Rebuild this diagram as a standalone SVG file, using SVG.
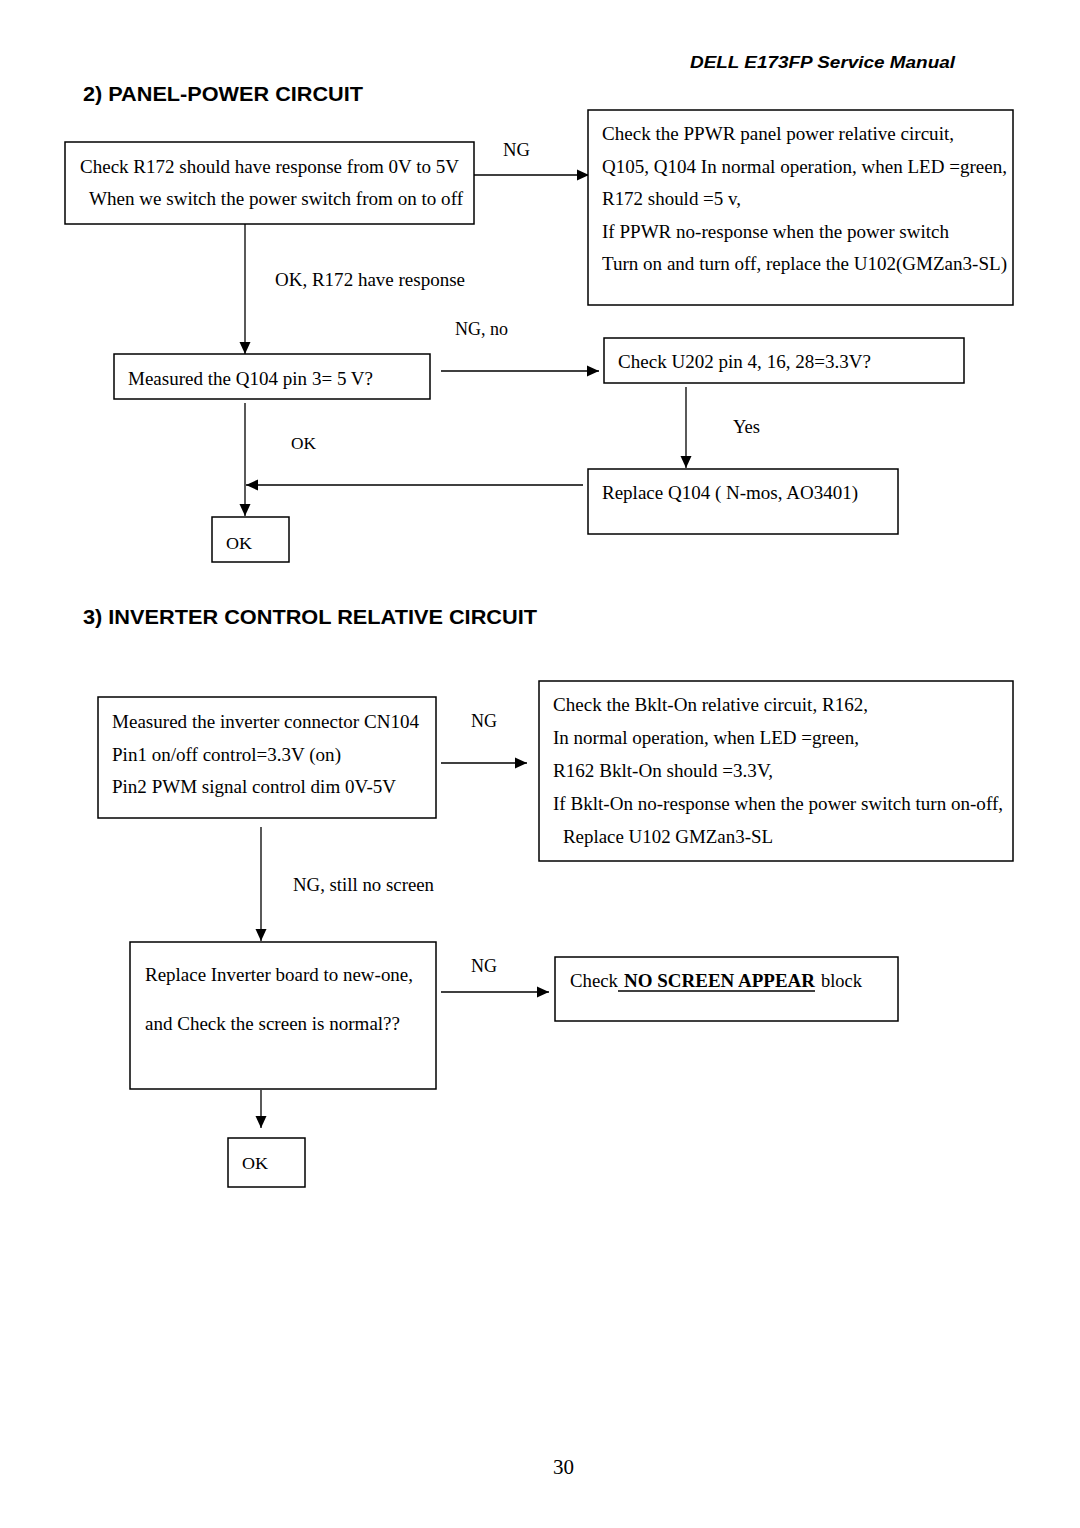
<svg xmlns="http://www.w3.org/2000/svg" width="1080" height="1528" viewBox="0 0 1080 1528">
<style>
.b{fill:#fff;stroke:#000;stroke-width:1.5}
.t{font-family:"Liberation Serif",serif;font-size:19px;fill:#000}
.s{font-family:"Liberation Serif",serif;font-size:17px;fill:#000}
.h{font-family:"Liberation Sans",Arial,sans-serif;font-weight:bold;font-size:21px;fill:#000}
.c{stroke:#000;stroke-width:1.3;fill:none}
</style>
<defs>
<marker id="ar" viewBox="0 0 12 12" refX="12" refY="6" markerWidth="12" markerHeight="12" markerUnits="userSpaceOnUse" orient="auto">
<path d="M0,0.5 L12,6 L0,11.5 Z" fill="#000"/>
</marker>
</defs>
<rect width="1080" height="1528" fill="#fff"/>
<text x="690" y="68" font-family="Liberation Sans,Arial,sans-serif" font-weight="bold" font-style="italic" font-size="16" textLength="265" lengthAdjust="spacingAndGlyphs">DELL  E173FP  Service  Manual</text>
<text class="h" x="83" y="101" textLength="280" lengthAdjust="spacingAndGlyphs">2) PANEL-POWER CIRCUIT</text>
<text class="h" x="83" y="624" textLength="454" lengthAdjust="spacingAndGlyphs">3) INVERTER CONTROL RELATIVE CIRCUIT</text>

<g id="connectors">
<line class="c" x1="474" y1="175" x2="589" y2="175" marker-end="url(#ar)"/>
<line class="c" x1="245" y1="224" x2="245" y2="354" marker-end="url(#ar)"/>
<line class="c" x1="441" y1="371" x2="599" y2="371" marker-end="url(#ar)"/>
<line class="c" x1="686" y1="387" x2="686" y2="468" marker-end="url(#ar)"/>
<line class="c" x1="583" y1="485" x2="246" y2="485" marker-end="url(#ar)"/>
<line class="c" x1="245" y1="403" x2="245" y2="516" marker-end="url(#ar)"/>
<line class="c" x1="441" y1="763" x2="527" y2="763" marker-end="url(#ar)"/>
<line class="c" x1="261" y1="827" x2="261" y2="941" marker-end="url(#ar)"/>
<line class="c" x1="441" y1="992" x2="549" y2="992" marker-end="url(#ar)"/>
<line class="c" x1="261" y1="1090" x2="261" y2="1128" marker-end="url(#ar)"/>
<text class="t" x="503" y="156" textLength="27" lengthAdjust="spacingAndGlyphs">NG</text>
<text class="t" x="275" y="286" textLength="190" lengthAdjust="spacingAndGlyphs">OK, R172 have response</text>
<text class="t" x="455" y="335" textLength="53" lengthAdjust="spacingAndGlyphs">NG, no</text>
<text class="t" x="733" y="433" textLength="27" lengthAdjust="spacingAndGlyphs">Yes</text>
<text class="s" x="291" y="449" textLength="25" lengthAdjust="spacingAndGlyphs">OK</text>
<text class="t" x="471" y="727" textLength="26" lengthAdjust="spacingAndGlyphs">NG</text>
<text class="t" x="293" y="891" textLength="141" lengthAdjust="spacingAndGlyphs">NG, still no screen</text>
<text class="t" x="471" y="972" textLength="26" lengthAdjust="spacingAndGlyphs">NG</text>
</g>

<g id="n1">
<rect class="b" x="65" y="142" width="409" height="82"/>
<text class="t" x="80" y="173" textLength="379" lengthAdjust="spacingAndGlyphs">Check R172 should have response from 0V to 5V</text>
<text class="t" x="89" y="205" textLength="374" lengthAdjust="spacingAndGlyphs">When we switch the power switch from on to off</text>
</g>
<g id="n2">
<rect class="b" x="588" y="110" width="425" height="195"/>
<text class="t" x="602" y="140" textLength="352" lengthAdjust="spacingAndGlyphs">Check the PPWR panel power relative circuit,</text>
<text class="t" x="602" y="173" textLength="405" lengthAdjust="spacingAndGlyphs">Q105, Q104 In normal operation, when LED =green,</text>
<text class="t" x="602" y="205" textLength="139" lengthAdjust="spacingAndGlyphs">R172 should =5 v,</text>
<text class="t" x="602" y="238" textLength="347" lengthAdjust="spacingAndGlyphs">If PPWR no-response when the power switch</text>
<text class="t" x="602" y="270" textLength="405" lengthAdjust="spacingAndGlyphs">Turn on and turn off, replace the U102(GMZan3-SL)</text>
</g>
<g id="n3">
<rect class="b" x="114" y="354" width="316" height="45"/>
<text class="t" x="128" y="385" textLength="245" lengthAdjust="spacingAndGlyphs">Measured the Q104 pin 3= 5 V?</text>
</g>
<g id="n4">
<rect class="b" x="604" y="338" width="360" height="45"/>
<text class="t" x="618" y="368" textLength="253" lengthAdjust="spacingAndGlyphs">Check U202 pin 4, 16, 28=3.3V?</text>
</g>
<g id="n5">
<rect class="b" x="588" y="469" width="310" height="65"/>
<text class="t" x="602" y="499" textLength="256" lengthAdjust="spacingAndGlyphs">Replace Q104 ( N-mos, AO3401)</text>
</g>
<g id="n6">
<rect class="b" x="212" y="517" width="77" height="45"/>
<text class="s" x="226" y="549" textLength="26" lengthAdjust="spacingAndGlyphs">OK</text>
</g>
<g id="n7">
<rect class="b" x="98" y="697" width="338" height="121"/>
<text class="t" x="112" y="728" textLength="307" lengthAdjust="spacingAndGlyphs">Measured the inverter connector CN104</text>
<text class="t" x="112" y="761" textLength="229" lengthAdjust="spacingAndGlyphs">Pin1 on/off control=3.3V (on)</text>
<text class="t" x="112" y="793" textLength="284" lengthAdjust="spacingAndGlyphs">Pin2 PWM signal control dim 0V-5V</text>
</g>
<g id="n8">
<rect class="b" x="539" y="681" width="474" height="180"/>
<text class="t" x="553" y="711" textLength="315" lengthAdjust="spacingAndGlyphs">Check the Bklt-On relative circuit, R162,</text>
<text class="t" x="553" y="744" textLength="306" lengthAdjust="spacingAndGlyphs">In normal operation, when LED =green,</text>
<text class="t" x="553" y="777" textLength="220" lengthAdjust="spacingAndGlyphs">R162 Bklt-On should =3.3V,</text>
<text class="t" x="553" y="810" textLength="450" lengthAdjust="spacingAndGlyphs">If Bklt-On no-response when the power switch turn on-off,</text>
<text class="t" x="563" y="843" textLength="210" lengthAdjust="spacingAndGlyphs">Replace U102 GMZan3-SL</text>
</g>
<g id="n9">
<rect class="b" x="130" y="942" width="306" height="147"/>
<text class="t" x="145" y="981" textLength="268" lengthAdjust="spacingAndGlyphs">Replace Inverter board to new-one,</text>
<text class="t" x="145" y="1030" textLength="255" lengthAdjust="spacingAndGlyphs">and Check the screen is normal??</text>
</g>
<g id="n10">
<rect class="b" x="555" y="957" width="343" height="64"/>
<text class="t" x="570" y="987" textLength="48" lengthAdjust="spacingAndGlyphs">Check</text>
<text class="t" x="624" y="987" font-weight="bold" textLength="191" lengthAdjust="spacingAndGlyphs">NO SCREEN APPEAR</text>
<line x1="618" y1="991" x2="815" y2="991" stroke="#000" stroke-width="1.5"/>
<text class="t" x="821" y="987" textLength="41" lengthAdjust="spacingAndGlyphs">block</text>
</g>
<g id="n11">
<rect class="b" x="228" y="1138" width="77" height="49"/>
<text class="s" x="242" y="1169" textLength="26" lengthAdjust="spacingAndGlyphs">OK</text>
</g>
<text x="553" y="1474" font-family="Liberation Serif,serif" font-size="22" textLength="21" lengthAdjust="spacingAndGlyphs">30</text>
</svg>
